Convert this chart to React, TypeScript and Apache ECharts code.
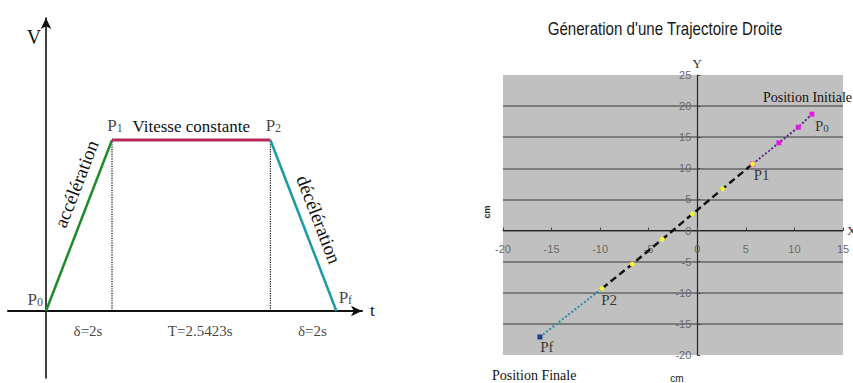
import React, { useEffect, useRef } from 'react';
import * as echarts from 'echarts';

// ---- Left panel: trapezoidal velocity profile (schematic positions) ----
const profileT = [0, 2, 6.8, 8.8];
const profileV = [0, 1, 1, 0];
const profilePoints = ['P0', 'P1', 'P2', 'Pf'];
const phaseNames = ['accélération', 'Vitesse constante', 'décélération'];
const phaseDurations = ['δ=2s', 'T=2.5423s', 'δ=2s'];

// ---- Right panel: straight-line trajectory (cm) ----
const tealX = [-16.2, -9.8];
const tealY = [-17.1, -9.3];
const blackX = [-9.8, -6.7, -3.6, -0.5, 2.6, 5.7];
const blackY = [-9.3, -5.4, -1.4, 2.65, 6.7, 10.7];
const magX = [5.7, 8.4, 10.4, 11.8];
const magY = [10.7, 14.1, 16.6, 18.7];
const trajXRange = [-20, 15];
const trajYRange = [-20, 25];
const trajStep = 5;
const trajTitle = "Géneration d'une Trajectoire Droite";
const trajPointNames = ['P0', 'P1', 'P2', 'Pf'];

const serif = '"Liberation Serif", "Times New Roman", serif';
const sans = '"Liberation Sans", Arial, sans-serif';
const ink = '#111';

export default function App() {
  const ref = useRef<HTMLDivElement>(null);
  useEffect(() => {
    const chart = echarts.init(ref.current!, null, { renderer: 'svg' });

    const gridR = { left: 503, top: 75, width: 340, height: 280 };
    // axes cross at zero: shift them from the grid edges to the zero position
    const yAxisShift = -((0 - trajXRange[0]) / (trajXRange[1] - trajXRange[0])) * gridR.width;
    const xAxisShift = -((0 - trajYRange[0]) / (trajYRange[1] - trajYRange[0])) * gridR.height;

    const profile = profileT.map((t, i) => [t, profileV[i]]);
    const richP = {
      p: { fontFamily: serif, fontSize: 17, color: ink },
      s: { fontFamily: serif, fontSize: 12, color: ink, verticalAlign: 'bottom' },
    };
    const subFmt = (n: string) => `{p|${n[0]}}{s|${n.slice(1)}}`;

    const segLabel = (text: string, a: number[], b: number[], position: string, size: number, distance: number) => ({
      silent: true,
      symbol: 'none',
      animation: false,
      lineStyle: { color: 'rgba(0,0,0,0)', width: 0 },
      label: { show: true, position, formatter: text, fontFamily: serif, fontSize: size, color: ink, distance },
      emphasis: { disabled: true },
      data: [[{ coord: a }, { coord: b }]],
    });

    const leftLabelPos = ['left', 'top', 'top', 'top'];
    const leftLabelOff = [[2, -11], [3, -1], [3, -1], [9, 0]];

    const teal = tealX.map((x, i) => [x, tealY[i]]);
    const black = blackX.map((x, i) => [x, blackY[i]]);
    const mag = magX.map((x, i) => [x, magY[i]]);
    const rightPts = [mag[mag.length - 1], mag[0], black[0], teal[0]];
    const rightLabelPos = ['right', 'right', 'bottom', 'bottom'];
    const rightLabelOff = [[-2, 12], [-4, 11], [7, -1], [7, -2]];

    const option: any = {
      animation: false,
      backgroundColor: '#fff',
      grid: [
        { left: 8, top: 18, width: 354, height: 360, outerBoundsMode: 'none', containLabel: false },
        {
          ...gridR, show: true, backgroundColor: '#c0c0c0',
          borderWidth: 0, outerBoundsMode: 'none', containLabel: false,
        },
      ],
      xAxis: [
        {
          gridIndex: 0, type: 'value', min: -1.152, max: 9.576,
          axisLine: { show: true, onZero: true, symbol: ['none', 'arrow'], symbolSize: [8, 11], lineStyle: { color: ink, width: 2 } },
          axisTick: { show: false }, axisLabel: { show: false }, splitLine: { show: false },
          name: 't', nameLocation: 'end', nameGap: 8,
          nameTextStyle: { fontFamily: serif, fontSize: 17, color: ink, padding: [0, 0, 5, 0] },
        },
        {
          gridIndex: 1, type: 'value', min: trajXRange[0], max: trajXRange[1], interval: trajStep,
          position: 'bottom', offset: xAxisShift,
          axisLine: { show: true, onZero: false, lineStyle: { color: '#222', width: 1.2 } },
          axisTick: { show: true, inside: true, length: 3, lineStyle: { color: '#444' } },
          axisLabel: { show: true, margin: 13, color: '#6a6a6a', fontSize: 11, fontFamily: sans },
          splitLine: { show: false },
          name: 'X', nameLocation: 'end', nameGap: 4,
          nameTextStyle: { fontFamily: serif, fontSize: 13, color: '#333' },
        },
      ],
      yAxis: [
        {
          gridIndex: 0, type: 'value', min: -0.392, max: 1.713,
          axisLine: { show: true, onZero: true, symbol: ['none', 'arrow'], symbolSize: [8, 11], lineStyle: { color: ink, width: 1.6 } },
          axisTick: { show: false }, axisLabel: { show: false }, splitLine: { show: false },
        },
        {
          gridIndex: 1, type: 'value', min: trajYRange[0], max: trajYRange[1], interval: trajStep,
          position: 'left', offset: yAxisShift,
          axisLine: { show: true, onZero: false, lineStyle: { color: '#222', width: 1.2 } },
          axisTick: { show: true, inside: true, length: 3, lineStyle: { color: '#444' } },
          axisLabel: { show: true, margin: 6, color: '#6a6a6a', fontSize: 11, fontFamily: sans },
          splitLine: { show: true, showMinLine: false, showMaxLine: false, lineStyle: { color: '#666', width: 1.6 } },
          name: 'Y', nameLocation: 'end', nameGap: 2,
          nameTextStyle: { fontFamily: serif, fontSize: 13, color: '#333' },
        },
      ],
      series: [
        // guides (dotted verticals)
        {
          type: 'line', xAxisIndex: 0, yAxisIndex: 0, symbol: 'none', silent: true,
          data: [[profileT[1], 0], [profileT[1], profileV[1]]],
          lineStyle: { color: ink, width: 1.2, type: 'dotted' },
        },
        {
          type: 'line', xAxisIndex: 0, yAxisIndex: 0, symbol: 'none', silent: true,
          data: [[profileT[2], 0], [profileT[2], profileV[2]]],
          lineStyle: { color: ink, width: 1.2, type: 'dotted' },
        },
        {
          type: 'line', xAxisIndex: 0, yAxisIndex: 0, symbol: 'none',
          data: [profile[0], profile[1]],
          lineStyle: { color: '#1f8b2c', width: 2.5 },
          markLine: segLabel(phaseNames[0], profile[0], profile[1], 'insideEndTop', 19, 8),
        },
        {
          type: 'line', xAxisIndex: 0, yAxisIndex: 0, symbol: 'none',
          data: [profile[1], profile[2]],
          lineStyle: { color: '#b8285a', width: 3 },
          markLine: segLabel(phaseNames[1], profile[1], profile[2], 'insideMiddleTop', 17, 5),
        },
        {
          type: 'line', xAxisIndex: 0, yAxisIndex: 0, symbol: 'none',
          data: [profile[2], profile[3]],
          lineStyle: { color: '#1b9aa3', width: 2.5 },
          markLine: segLabel(phaseNames[2], profile[2], profile[3], 'insideMiddleTop', 19, 7),
        },
        // point labels (left)
        {
          type: 'scatter', xAxisIndex: 0, yAxisIndex: 0, symbolSize: 0, silent: true,
          data: profile.map((p, i) => ({
            value: p,
            label: {
              show: true, position: leftLabelPos[i], offset: leftLabelOff[i],
              formatter: subFmt(profilePoints[i]), rich: richP,
            },
          })),
        },
        // durations (left)
        {
          type: 'scatter', xAxisIndex: 0, yAxisIndex: 0, symbolSize: 0, silent: true,
          data: phaseDurations.map((d, i) => ({
            value: [(profileT[i] + profileT[i + 1]) / 2, 0],
            label: {
              show: true, position: 'bottom', distance: 13, offset: [9, 0],
              formatter: d, fontFamily: serif, fontSize: 15, color: ink,
            },
          })),
        },
        // right: trajectory
        {
          type: 'line', xAxisIndex: 1, yAxisIndex: 1, data: teal,
          symbol: (_v: any, p: any) => (p.dataIndex === 0 ? 'rect' : 'none'), symbolSize: 5,
          itemStyle: { color: '#1d3f8f' },
          lineStyle: { color: '#2a8ea6', width: 2, type: 'dotted' },
        },
        {
          type: 'line', xAxisIndex: 1, yAxisIndex: 1, data: mag,
          symbol: 'rect', symbolSize: 5, showSymbol: true,
          itemStyle: { color: '#e01ee0' },
          lineStyle: { color: '#5b2a86', width: 2, type: 'dotted' },
        },
        {
          type: 'line', xAxisIndex: 1, yAxisIndex: 1, data: black,
          symbol: 'circle', symbolSize: 5, showSymbol: true,
          itemStyle: { color: '#f2f23a' },
          lineStyle: { color: '#111', width: 2.5, type: [7, 4] },
        },
        {
          type: 'scatter', xAxisIndex: 1, yAxisIndex: 1, symbolSize: 0, silent: true,
          data: rightPts.map((p, i) => ({
            value: p,
            label: {
              show: true, position: rightLabelPos[i], offset: rightLabelOff[i],
              formatter: i === 0 ? subFmt(trajPointNames[i]) : trajPointNames[i],
              fontFamily: serif, fontSize: 15, color: ink,
              rich: {
                p: { fontFamily: serif, fontSize: 15, color: ink },
                s: { fontFamily: serif, fontSize: 11, color: ink, verticalAlign: 'bottom' },
              },
            },
          })),
        },
      ],
      graphic: [
        {
          type: 'text', x: 34, y: 37,
          style: { text: 'V', fontFamily: serif, fontSize: 20, fill: ink, textAlign: 'center', textVerticalAlign: 'middle' },
        },
        {
          type: 'text', x: 665, y: 29, scaleX: 0.84,
          style: { text: trajTitle, fontFamily: sans, fontSize: 18, fill: '#1a1a1a', textAlign: 'center', textVerticalAlign: 'middle' },
        },
        {
          type: 'text', x: 763, y: 97,
          style: { text: 'Position Initiale', fontFamily: serif, fontSize: 14, fill: ink, textAlign: 'left', textVerticalAlign: 'middle' },
        },
        {
          type: 'text', x: 492, y: 375,
          style: { text: 'Position Finale', fontFamily: serif, fontSize: 14, fill: ink, textAlign: 'left', textVerticalAlign: 'middle' },
        },
        {
          type: 'text', x: 487, y: 212, rotation: Math.PI / 2,
          style: { text: 'cm', fontFamily: sans, fontSize: 9, fontWeight: 'bold', fill: '#222', textAlign: 'center', textVerticalAlign: 'middle' },
        },
        {
          type: 'text', x: 677, y: 378,
          style: { text: 'cm', fontFamily: sans, fontSize: 10, fill: '#222', textAlign: 'center', textVerticalAlign: 'middle' },
        },
      ],
    };
    chart.setOption(option);
    return () => chart.dispose();
  }, []);
  return (
    <div
      ref={ref}
      style={{ position: 'fixed', left: 0, top: 0, width: 853, height: 383, background: '#fff' }}
    />
  );
}
